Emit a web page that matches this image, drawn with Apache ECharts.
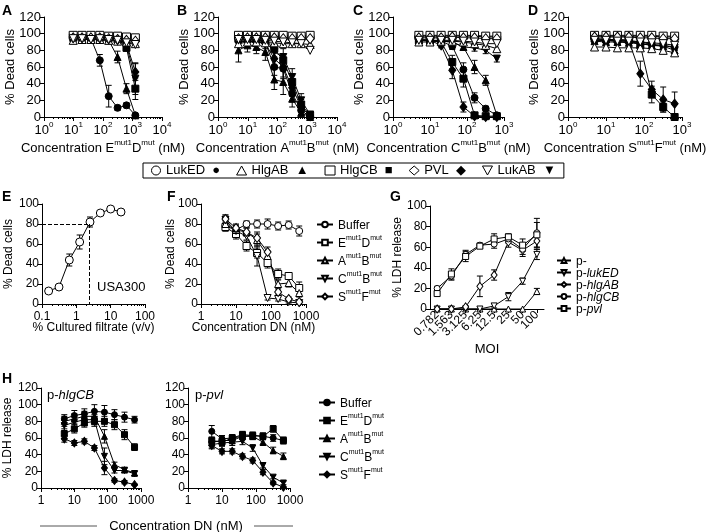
<!DOCTYPE html>
<html lang="en">
<head>
<meta charset="UTF-8">
<title>Leukocidin toxoid panels</title>
<style>html,body{margin:0;padding:0;background:#fff;}</style>
</head>
<body>
<div id="main" style="width:710px;height:532px;"></div>
<script src="https://cdn.jsdelivr.net/npm/echarts@6/dist/echarts.min.js"></script>
<script>
// ---- data -------------------------------------------------------------
var toxins = ['LukED', 'HlgAB', 'HlgCB', 'PVL', 'LukAB'];
var toxinShapes = ['circle', 'up', 'square', 'diamond', 'down'];
var filledGlyph = ['\u25CF', '\u25B2', '\u25A0', '\u25C6', '\u25BC'];

var concA = [9.77, 19.5, 39, 78, 156, 312, 625, 1250];
var concB = [4.88, 9.77, 19.5, 39, 78, 156, 312, 625, 1250];
var concCD = [5, 10, 20, 40, 80, 160, 320, 640];

// rows follow toxins order; open = native toxin, filled = toxin + mutant
var A_open = [
  [97, 97, 96, 97, 96, 95, 95, 94],
  [92, 93, 93, 93, 92, 91, 90, 88],
  [98, 98, 98, 98, 97, 97, 96, 95],
  [95, 95, 95, 95, 94, 93, 92, 91],
  [94, 94, 93, 94, 93, 92, 89, 87]
];
var A_filled = [
  [95, 95, 94, 68, 25, 11, 14, 2],
  [95, 94, 94, 93, 92, 72, 34, 2],
  [96, 96, 96, 95, 95, 93, 83, 34],
  [95, 95, 95, 95, 94, 92, 88, 54],
  [96, 96, 95, 95, 94, 92, 86, 46]
];
var A_err = [
  [2, 2, 2, 7, 13, 3, 3, 1],
  [2, 2, 2, 2, 3, 7, 6, 1],
  [2, 2, 2, 2, 2, 3, 4, 13],
  [2, 2, 2, 2, 3, 3, 4, 10],
  [2, 2, 2, 2, 3, 3, 6, 19]
];

var B_open = [
  [97, 97, 97, 97, 97, 96, 96, 96, 96],
  [88, 90, 90, 89, 89, 88, 88, 88, 87],
  [98, 98, 98, 98, 98, 98, 97, 97, 98],
  [94, 95, 95, 95, 95, 94, 94, 94, 94],
  [93, 93, 93, 92, 91, 90, 89, 88, 80]
];
var B_filled = [
  [92, 93, 92, 90, 60, 58, 28, 8, 0],
  [80, 86, 84, 78, 45, 42, 22, 5, 0],
  [94, 94, 93, 92, 82, 68, 42, 15, 2],
  [90, 91, 90, 88, 70, 60, 35, 12, 1],
  [93, 93, 92, 91, 78, 72, 48, 20, 3]
];
var B_err = [
  [3, 3, 4, 5, 10, 12, 10, 5, 1],
  [14, 8, 8, 10, 12, 15, 10, 4, 1],
  [2, 2, 3, 4, 5, 8, 8, 6, 1],
  [4, 4, 4, 6, 10, 12, 10, 6, 1],
  [2, 2, 3, 4, 6, 10, 10, 8, 2]
];

var C_open = [
  [97, 97, 97, 97, 97, 97, 96, 96],
  [90, 90, 91, 91, 90, 88, 86, 82],
  [98, 98, 98, 98, 98, 98, 97, 97],
  [95, 95, 95, 96, 95, 95, 94, 94],
  [92, 92, 92, 92, 91, 90, 88, 88]
];
var C_filled = [
  [93, 92, 91, 85, 57, 23, 10, 2],
  [92, 91, 91, 90, 84, 60, 44, 2],
  [92, 92, 90, 66, 46, 2, 1, 1],
  [93, 92, 86, 56, 12, 1, 0, 0],
  [92, 92, 91, 90, 84, 83, 80, 70]
];
var C_err = [
  [2, 2, 2, 4, 8, 6, 3, 1],
  [2, 2, 2, 3, 4, 8, 6, 1],
  [2, 2, 3, 8, 10, 1, 1, 1],
  [2, 2, 3, 10, 6, 1, 0, 0],
  [2, 2, 2, 3, 4, 4, 4, 4]
];

var D_open = [
  [97, 97, 97, 97, 97, 97, 96, 96],
  [84, 84, 83, 83, 83, 82, 80, 77],
  [98, 98, 98, 98, 98, 98, 97, 97],
  [96, 96, 96, 96, 95, 95, 94, 94],
  [92, 92, 91, 91, 90, 89, 88, 86]
];
var D_filled = [
  [94, 93, 93, 92, 90, 87, 86, 84],
  [91, 90, 90, 89, 88, 86, 85, 80],
  [94, 93, 93, 92, 86, 27, 12, 0],
  [93, 92, 92, 91, 52, 33, 21, 16],
  [92, 92, 91, 91, 88, 86, 86, 83]
];
var D_err = [
  [2, 2, 2, 2, 3, 3, 3, 4],
  [2, 2, 2, 2, 3, 3, 3, 4],
  [2, 2, 2, 2, 4, 10, 6, 1],
  [2, 2, 2, 3, 15, 10, 15, 14],
  [2, 2, 2, 2, 3, 3, 3, 3]
];

// E: USA300 culture filtrate
var filtrate = [0.156, 0.3125, 0.625, 1.25, 2.5, 5, 10, 20];
var E_vals = [13, 17, 44, 62, 82, 91, 95, 92];
var E_err = [1, 1, 6, 7, 5, 2, 1, 1];
var E_cut = 80;
var E_cutConc = 2.3;

// F and H: DN concentrations
var concDN = [5, 10, 20, 40, 80, 160, 320, 640];
var dnShapes = ['circle', 'square', 'up', 'down', 'diamond'];
var dnLabels = ['{n|Buffer}', '{n|E}{s|mut1}{n|D}{s|mut}', '{n|A}{s|mut1}{n|B}{s|mut}',
                '{n|C}{s|mut1}{n|B}{s|mut}', '{n|S}{s|mut1}{n|F}{s|mut}'];
var F_vals = [
  [78, 74, 80, 80, 80, 78, 79, 73],
  [77, 70, 58, 51, 41, 30, 28, 16],
  [80, 74, 72, 64, 48, 20, 21, 11],
  [84, 73, 68, 48, 6, 5, 2, 1],
  [85, 76, 72, 66, 52, 12, 5, 2]
];
var F_err = [
  [5, 5, 3, 4, 5, 4, 4, 5],
  [4, 5, 5, 5, 5, 5, 3, 6],
  [4, 4, 4, 6, 5, 4, 4, 4],
  [5, 4, 4, 10, 2, 2, 1, 1],
  [4, 4, 4, 6, 5, 3, 2, 1]
];

// G: LDH release vs MOI
var moi = ['0.782', '1.563', '3.125', '6.25', '12.5', '25', '50', '100'];
var gNames = ['p-', 'p-lukED', 'p-hlgAB', 'p-hlgCB', 'p-pvl'];
var gLabels = ['{n|p-}', '{n|p-}{i|lukED}', '{n|p-}{i|hlgAB}', '{n|p-}{i|hlgCB}', '{n|p-}{i|pvl}'];
var gShapes = ['up', 'down', 'diamond', 'circle', 'square'];
var G_vals = [
  [0, 0, 0, 0, 0, 0, 0, 17],
  [0, 0, 0, 0, 3, 12, 27, 53],
  [0, 0, 2, 22, 33, 65, 57, 66],
  [20, 32, 53, 62, 63, 68, 58, 74],
  [15, 34, 51, 61, 68, 70, 62, 72]
];
var G_err = [
  [0, 0, 0, 0, 0, 0, 0, 3],
  [0, 0, 0, 0, 2, 4, 3, 5],
  [0, 0, 1, 10, 5, 5, 6, 8],
  [2, 4, 4, 2, 4, 4, 5, 14],
  [2, 5, 5, 2, 5, 3, 6, 12]
];

// H: LDH release with p-hlgCB / p-pvl supernatants
var hShapes = ['circle', 'square', 'up', 'down', 'diamond'];
var H1_vals = [
  [83, 87, 89, 92, 91, 88, 85, 82],
  [65, 71, 78, 80, 80, 76, 64, 49],
  [80, 83, 86, 86, 62, 28, 22, 18],
  [75, 79, 82, 82, 38, 21, 21, 17],
  [59, 54, 56, 48, 24, 9, 7, 4]
];
var H1_err = [
  [5, 6, 6, 8, 8, 6, 6, 4],
  [6, 5, 5, 6, 6, 6, 6, 4],
  [6, 6, 6, 6, 8, 3, 3, 3],
  [6, 6, 6, 6, 10, 3, 3, 3],
  [4, 3, 3, 3, 8, 2, 2, 1]
];
var H2_vals = [
  [68, 59, 60, 62, 63, 62, 60, 57],
  [57, 55, 60, 64, 63, 62, 71, 57],
  [55, 57, 57, 62, 62, 55, 45, 38],
  [52, 54, 55, 56, 48, 27, 13, 6],
  [51, 44, 44, 38, 33, 19, 6, 1]
];
var H2_err = [
  [7, 4, 4, 4, 4, 4, 4, 4],
  [4, 4, 4, 4, 4, 4, 4, 4],
  [4, 4, 4, 4, 4, 4, 4, 4],
  [4, 4, 4, 4, 4, 3, 2, 2],
  [4, 3, 3, 3, 3, 3, 2, 1]
];

// ---- helpers ----------------------------------------------------------
var FONT = '"Liberation Sans", Arial, Helvetica, sans-serif';
var BLACK = '#000';

function txt(size, extra) {
  return Object.assign({fontFamily: FONT, fontSize: size, color: BLACK}, extra || {});
}
function richFor(size) {
  var lh = Math.round(size * 1.25);
  return {
    n: txt(size, {verticalAlign: 'bottom', lineHeight: lh}),
    s: txt(Math.round(size * 0.6), {verticalAlign: 'top', lineHeight: lh}),
    i: txt(size, {fontStyle: 'italic', verticalAlign: 'bottom', lineHeight: lh})
  };
}
function richZr(size) {
  var lh = Math.round(size * 1.25);
  return {
    n: {fontFamily: FONT, fontSize: size, fill: BLACK, verticalAlign: 'bottom', lineHeight: lh},
    i: {fontFamily: FONT, fontSize: size, fill: BLACK, fontStyle: 'italic', verticalAlign: 'bottom', lineHeight: lh}
  };
}

var SHAPES = {
  circle: {sym: 'circle', rot: 0},
  up: {sym: 'triangle', rot: 0},
  square: {sym: 'rect', rot: 0},
  diamond: {sym: 'diamond', rot: 0},
  down: {sym: 'triangle', rot: 180}
};
var LEGEND_ICON = {
  circle: 'circle', up: 'triangle', square: 'rect', diamond: 'diamond',
  down: 'path://M0,0L10,0L5,9Z'
};

function minors(lo, hi) {
  var out = [];
  for (var p = lo; p < hi * 0.999; p *= 10) {
    for (var m = 2; m < 10; m++) out.push(+(m * p).toPrecision(3));
  }
  return out;
}

function xLog(min, max, pow, name, gap, size) {
  return {
    type: 'log', logBase: 10, min: min, max: max,
    axisLine: {show: true, onZero: false, lineStyle: {color: BLACK, width: 1}},
    axisTick: {show: true, length: 4, lineStyle: {color: BLACK}},
    axisLabel: {
      margin: 4, color: BLACK, fontFamily: FONT, fontSize: size,
      formatter: pow ? function (v) { return '{n|10}{s|' + Math.round(Math.log10(v)) + '}'; }
                     : function (v) { return '{n|' + (+v.toPrecision(3)) + '}'; },
      rich: richFor(size)
    },
    splitLine: {show: false},
    name: name, nameLocation: 'middle', nameGap: gap, nameMoveOverlap: false,
    nameTextStyle: txt(size, {rich: richFor(size)})
  };
}
function xMinor(min, max) {
  return {
    type: 'log', logBase: 10, min: min, max: max,
    axisLine: {show: false}, axisLabel: {show: false}, splitLine: {show: false},
    axisTick: {show: true, length: 2, customValues: minors(min, max), lineStyle: {color: BLACK}}
  };
}
function yVal(max, name, gap, size) {
  return {
    type: 'value', min: 0, max: max, interval: 20,
    axisLine: {show: true, onZero: false, lineStyle: {color: BLACK, width: 1}},
    axisTick: {show: true, length: 4, lineStyle: {color: BLACK}},
    axisLabel: {margin: 3, color: BLACK, fontFamily: FONT, fontSize: size},
    splitLine: {show: false},
    name: name, nameLocation: 'middle', nameGap: gap, nameRotate: 90, nameMoveOverlap: false,
    nameTextStyle: txt(size)
  };
}

var grids = [], xAxes = [], yAxes = [], series = [];

function addPanel(box, xCfg, yCfg, minor) {
  var gi = grids.length;
  grids.push(Object.assign({containLabel: false}, box));
  xCfg.gridIndex = gi; xCfg.position = 'bottom';
  yCfg.gridIndex = gi;
  var xi = xAxes.push(xCfg) - 1;
  var yi = yAxes.push(yCfg) - 1;
  if (minor) {
    var m = xMinor(xCfg.min, xCfg.max);
    m.gridIndex = gi; m.position = 'bottom';
    xAxes.push(m);
  }
  return {xi: xi, yi: yi};
}

function lineS(name, p, xs, ys, shape, filled, size) {
  var sh = SHAPES[shape];
  return {
    name: name, type: 'line', xAxisIndex: p.xi, yAxisIndex: p.yi,
    data: xs.map(function (x, i) { return [x, ys[i]]; }),
    symbol: sh.sym, symbolRotate: sh.rot,
    symbolSize: shape === 'diamond' ? [size, size + 2] : size,
    showSymbol: true, clip: false,
    lineStyle: {color: BLACK, width: 1},
    itemStyle: {color: filled ? BLACK : '#fff', borderColor: BLACK, borderWidth: 1},
    emphasis: {disabled: true},
    z: filled ? 3 : 4
  };
}

function errS(p, xs, ys, es) {
  var d = [];
  xs.forEach(function (x, i) {
    if (es && es[i] > 0) d.push([x, Math.max(0, ys[i] - es[i]), ys[i] + es[i]]);
  });
  return {
    type: 'custom', xAxisIndex: p.xi, yAxisIndex: p.yi, data: d, silent: true, z: 2,
    encode: {x: 0, y: [1, 2]},
    renderItem: function (params, api) {
      var lo = api.coord([api.value(0), api.value(1)]);
      var hi = api.coord([api.value(0), api.value(2)]);
      var w = 3, st = {stroke: BLACK, lineWidth: 1};
      return {type: 'group', children: [
        {type: 'line', shape: {x1: lo[0], y1: lo[1], x2: hi[0], y2: hi[1]}, style: st},
        {type: 'line', shape: {x1: lo[0] - w, y1: lo[1], x2: lo[0] + w, y2: lo[1]}, style: st},
        {type: 'line', shape: {x1: hi[0] - w, y1: hi[1], x2: hi[0] + w, y2: hi[1]}, style: st}
      ]};
    }
  };
}

function concName(letter1, letter2) {
  return '{n|Concentration ' + letter1 + '}{s|mut1}{n|' + letter2 + '}{s|mut}{n| (nM)}';
}

// ---- panels A-D ---------------------------------------------------------
function toxinPanel(p, conc, open, filled, err) {
  toxins.forEach(function (t, k) {
    series.push(lineS(t, p, conc, open[k], toxinShapes[k], false, 8));
  });
  toxins.forEach(function (t, k) {
    series.push(errS(p, conc, filled[k], err[k]));
    series.push(lineS(t + ' mut', p, conc, filled[k], toxinShapes[k], true, 7));
  });
}

var pA = addPanel({left: 44, top: 17, width: 118, height: 100},
  xLog(1, 10000, true, concName('E', 'D'), 22, 13), yVal(120, '% Dead cells', 27, 13), true);
var pB = addPanel({left: 218, top: 17, width: 119, height: 100},
  xLog(1, 10000, true, concName('A', 'B'), 22, 13), yVal(120, '% Dead cells', 27, 13), true);
var pC = addPanel({left: 393, top: 17, width: 111, height: 100},
  xLog(1, 1000, true, concName('C', 'B'), 22, 13), yVal(120, '% Dead cells', 27, 13), true);
var pD = addPanel({left: 568, top: 17, width: 114, height: 100},
  xLog(1, 1000, true, concName('S', 'F'), 22, 13), yVal(120, '% Dead cells', 27, 13), true);

toxinPanel(pA, concA, A_open, A_filled, A_err);
toxinPanel(pB, concB, B_open, B_filled, B_err);
toxinPanel(pC, concCD, C_open, C_filled, C_err);
toxinPanel(pD, concCD, D_open, D_filled, D_err);

// ---- panel E ----------------------------------------------------------
var pE = addPanel({left: 42, top: 204, width: 103, height: 100},
  xLog(0.1, 100, false, '% Cultured filtrate (v/v)', 18, 12), yVal(100, '% Dead cells', 27, 12), true);
series.push(errS(pE, filtrate, E_vals, E_err));
var eLine = lineS('USA300', pE, filtrate, E_vals, 'circle', false, 8);
eLine.markLine = {
  silent: true, symbol: 'none', label: {show: false},
  lineStyle: {type: 'dashed', color: BLACK, width: 1},
  data: [
    [{coord: [0.1, E_cut]}, {coord: [E_cutConc, E_cut]}],
    [{coord: [E_cutConc, E_cut]}, {coord: [E_cutConc, 0]}]
  ]
};
series.push(eLine);

// ---- panel F ----------------------------------------------------------
var pF = addPanel({left: 201, top: 204, width: 105, height: 100},
  xLog(1, 1000, false, 'Concentration DN (nM)', 18, 12), yVal(100, '% Dead cells', 24, 12), true);
F_vals.forEach(function (v, k) {
  series.push(errS(pF, concDN, v, F_err[k]));
  series.push(lineS('F' + k, pF, concDN, v, dnShapes[k], false, 7));
});

// ---- panel G ----------------------------------------------------------
var gX = {
  type: 'category', data: moi, boundaryGap: true,
  axisLine: {show: true, onZero: false, lineStyle: {color: BLACK, width: 1}},
  axisTick: {show: true, length: 4, alignWithLabel: true, lineStyle: {color: BLACK}},
  axisLabel: {margin: 4, rotate: 45, interval: 0, color: BLACK, fontFamily: FONT, fontSize: 12},
  splitLine: {show: false},
  name: 'MOI', nameLocation: 'middle', nameGap: 34, nameMoveOverlap: false, nameTextStyle: txt(13)
};
var pG = addPanel({left: 430, top: 206, width: 114, height: 103}, gX, yVal(100, '% LDH release', 26, 12), false);
G_vals.forEach(function (v, k) {
  series.push(errS(pG, moi, v, G_err[k]));
  series.push(lineS(gNames[k], pG, moi, v, gShapes[k], false, 6));
});

// ---- panel H ----------------------------------------------------------
var pH1 = addPanel({left: 41, top: 388, width: 100, height: 100},
  xLog(1, 1000, false, '', 0, 12), yVal(120, '% LDH release', 27, 12), true);
var pH2 = addPanel({left: 188, top: 388, width: 102, height: 100},
  xLog(1, 1000, false, '', 0, 12), yVal(120, '', 0, 12), true);
H1_vals.forEach(function (v, k) {
  series.push(errS(pH1, concDN, v, H1_err[k]));
  series.push(lineS('H' + k, pH1, concDN, v, hShapes[k], true, 6));
});
H2_vals.forEach(function (v, k) {
  series.push(errS(pH2, concDN, v, H2_err[k]));
  series.push(lineS('H2' + k, pH2, concDN, v, hShapes[k], true, 6));
});

// ---- legends ----------------------------------------------------------
var legends = [
  {
    left: 143, top: 163, orient: 'horizontal', itemGap: 16, itemWidth: 10, itemHeight: 9,
    padding: [1, 8], borderColor: BLACK, borderWidth: 1, selectedMode: false,
    data: toxins.map(function (t, k) {
      return {name: t, icon: LEGEND_ICON[toxinShapes[k]],
              itemStyle: {color: '#fff', borderColor: BLACK, borderWidth: 1}};
    }),
    formatter: function (name) { return name + '  ' + filledGlyph[toxins.indexOf(name)]; },
    textStyle: txt(13)
  },
  {
    left: 311, top: 215, orient: 'vertical', itemGap: 3, itemWidth: 16, itemHeight: 7,
    selectedMode: false, data: ['F0', 'F1', 'F2', 'F3', 'F4'],
    formatter: function (name) { return dnLabels[+name.slice(1)]; },
    textStyle: txt(12, {rich: richFor(12)})
  },
  {
    left: 551, top: 251, orient: 'vertical', itemGap: 0, itemWidth: 14, itemHeight: 6,
    selectedMode: false, data: gNames,
    formatter: function (name) { return gLabels[gNames.indexOf(name)]; },
    textStyle: txt(12, {rich: richFor(12)})
  },
  {
    left: 313, top: 393, orient: 'vertical', itemGap: 3, itemWidth: 16, itemHeight: 7,
    selectedMode: false, data: ['H0', 'H1', 'H2', 'H3', 'H4'],
    formatter: function (name) { return dnLabels[+name.slice(1)]; },
    textStyle: txt(12, {rich: richFor(12)})
  }
];

// ---- annotations ------------------------------------------------------
var letters = [['A', 2, 4], ['B', 177, 4], ['C', 353, 4], ['D', 528, 4],
               ['E', 2, 190], ['F', 167, 190], ['G', 390, 190], ['H', 2, 372]];
var graphics = letters.map(function (l) {
  return {type: 'text', left: l[1], top: l[2],
          style: {text: l[0], font: 'bold 14px ' + FONT, fill: BLACK}};
});
graphics.push(
  {type: 'text', left: 97, top: 281, style: {text: 'USA300', font: '13px ' + FONT, fill: BLACK}},
  {type: 'text', left: 47, top: 389, style: {text: '{n|p-}{i|hlgCB}', rich: richZr(13)}},
  {type: 'text', left: 195, top: 389, style: {text: '{n|p-}{i|pvl}', rich: richZr(13)}},
  {type: 'text', x: 176, y: 526, style: {text: 'Concentration DN (nM)', font: '13px ' + FONT,
    fill: BLACK, align: 'center', verticalAlign: 'middle'}},
  {type: 'line', shape: {x1: 40, y1: 526, x2: 97, y2: 526}, style: {stroke: '#555', lineWidth: 1}},
  {type: 'line', shape: {x1: 254, y1: 526, x2: 293, y2: 526}, style: {stroke: '#555', lineWidth: 1}}
);

var myChart = echarts.init(document.getElementById('main'), null, {renderer: 'canvas'});
myChart.setOption({
  animation: false,
  backgroundColor: '#fff',
  textStyle: {fontFamily: FONT, color: BLACK},
  grid: grids,
  xAxis: xAxes,
  yAxis: yAxes,
  legend: legends,
  graphic: graphics,
  series: series
});
</script>
</body>
</html>
